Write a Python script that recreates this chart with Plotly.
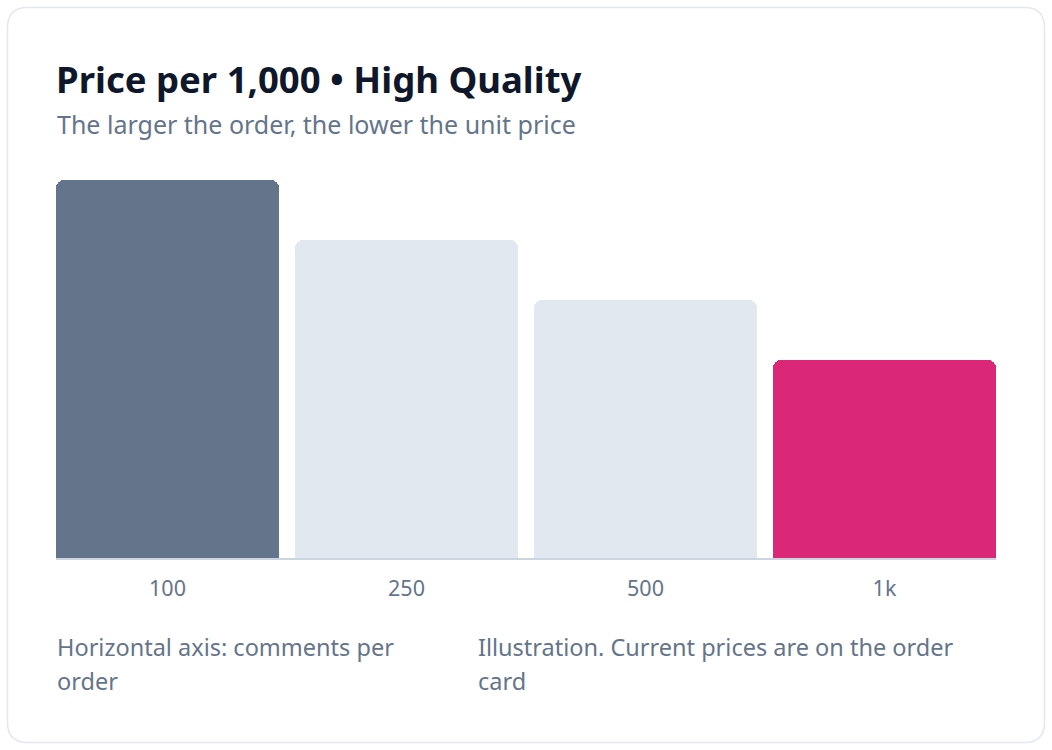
import plotly.graph_objects as go

# ---- data ----
categories = ["100", "250", "500", "1k"]
prices = [6.3, 5.3, 4.3, 3.3]
bar_colors = ["#64748b", "#e2e8f0", "#e2e8f0", "#db2777"]

title = "Price per 1,000 • High Quality"
subtitle = "The larger the order, the lower the unit price"
note_left = ["Horizontal axis: comments per", "order"]
note_right = ["Illustration. Current prices are on the order", "card"]

W, H = 1052, 750
L, R, T, B = 56, 56, 180, 192
PW, PH = W - L - R, H - T - B

def px(x):
    return (x - L) / PW

def py(y):
    return (H - B - y) / PH

FONT = "Noto Sans, Open Sans, sans-serif"
MUTED = "#64748b"

fig = go.Figure(
    go.Bar(
        x=list(range(len(categories))),
        y=prices,
        width=0.933,
        marker=dict(color=bar_colors, cornerradius=8, line=dict(width=0)),
        hoverinfo="skip",
    )
)

# rounded card border
x0, y0, x1, y1, r = 7.5, 7.5, 1044.5, 742.5, 20
path = (
    f"M {px(x0 + r)} {py(y0)} L {px(x1 - r)} {py(y0)} "
    f"Q {px(x1)} {py(y0)} {px(x1)} {py(y0 + r)} "
    f"L {px(x1)} {py(y1 - r)} Q {px(x1)} {py(y1)} {px(x1 - r)} {py(y1)} "
    f"L {px(x0 + r)} {py(y1)} Q {px(x0)} {py(y1)} {px(x0)} {py(y1 - r)} "
    f"L {px(x0)} {py(y0 + r)} Q {px(x0)} {py(y0)} {px(x0 + r)} {py(y0)} Z"
)

def text_ann(text, x, y, size, color, bold=False):
    return dict(text=f"<b>{text}</b>" if bold else text, x=px(x), y=py(y),
                xref="paper", yref="paper", xanchor="left", yanchor="middle",
                showarrow=False, font=dict(family=FONT, size=size, color=color))

annotations = [
    text_ann(title, 54, 79, 36.5, "#0f172a", bold=True),
    text_ann(subtitle, 55, 124, 25, MUTED),
]
for i, line in enumerate(note_left):
    annotations.append(text_ann(line, 55, 647 + 34 * i, 23.5, MUTED))
for i, line in enumerate(note_right):
    annotations.append(text_ann(line, 476, 647 + 34 * i, 23.5, MUTED))

fig.update_layout(
    width=W,
    height=H,
    margin=dict(l=L, r=R, t=T, b=B),
    paper_bgcolor="white",
    plot_bgcolor="white",
    showlegend=False,
    bargap=0,
    xaxis=dict(
        range=[-0.4665, len(categories) - 1 + 0.4665],
        tickmode="array",
        tickvals=list(range(len(categories))),
        ticktext=categories,
        showgrid=False,
        zeroline=False,
        showline=True,
        linecolor="#cbd5e1",
        linewidth=2,
        ticks="",
        ticklabelstandoff=10,
        tickfont=dict(family=FONT, size=21.5, color=MUTED),
        fixedrange=True,
    ),
    yaxis=dict(
        range=[0, max(prices)],
        visible=False,
        fixedrange=True,
    ),
    shapes=[
        dict(type="path", path=path, xref="paper", yref="paper",
             line=dict(color="#e2e8f0", width=1.5), fillcolor="rgba(0,0,0,0)",
             layer="below"),
    ],
    annotations=annotations,
)

fig.write_html(
    "out.html",
    config={"displayModeBar": False},
    post_script="document.body.style.margin='0';document.body.style.overflow='hidden';",
)
